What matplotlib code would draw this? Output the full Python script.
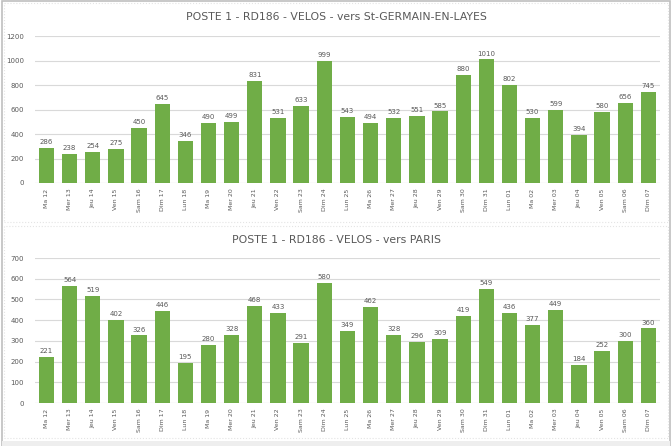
import matplotlib.pyplot as plt
from matplotlib.patches import Rectangle

days = ['Ma 12', 'Mer 13', 'Jeu 14', 'Ven 15', 'Sam 16', 'Dim 17', 'Lun 18',
        'Ma 19', 'Mer 20', 'Jeu 21', 'Ven 22', 'Sam 23', 'Dim 24', 'Lun 25',
        'Ma 26', 'Mer 27', 'Jeu 28', 'Ven 29', 'Sam 30', 'Dim 31', 'Lun 01',
        'Ma 02', 'Mer 03', 'Jeu 04', 'Ven 05', 'Sam 06', 'Dim 07']

vers_stgermain = [286, 238, 254, 275, 450, 645, 346, 490, 499, 831, 531, 633,
                  999, 543, 494, 532, 551, 585, 880, 1010, 802, 530, 599, 394,
                  580, 656, 745]
vers_paris = [221, 564, 519, 402, 326, 446, 195, 280, 328, 468, 433, 291,
              580, 349, 462, 328, 296, 309, 419, 549, 436, 377, 449, 184,
              252, 300, 360]

titles = ['POSTE 1 - RD186 - VELOS - vers St-GERMAIN-EN-LAYES',
          'POSTE 1 - RD186 - VELOS - vers PARIS']

GREEN = '#70AD47'
TXT = '#595959'
GRID = '#D9D9D9'

fig = plt.figure(figsize=(6.72, 4.46), dpi=100)

# chart boxes
fig.patches.append(Rectangle((0.003, 0.0), 0.994, 0.997, transform=fig.transFigure,
                             fill=False, edgecolor='#BFBFBF', linewidth=1.2))
fig.patches.append(Rectangle((0.006, 0.503), 0.988, 0.49, transform=fig.transFigure,
                             fill=False, edgecolor='#E4E4E4', linewidth=0.8, linestyle=':'))
fig.patches.append(Rectangle((0.006, 0.018), 0.988, 0.475, transform=fig.transFigure,
                             fill=False, edgecolor='#E4E4E4', linewidth=0.8, linestyle=':'))
fig.patches.append(Rectangle((0.003, 0.0), 0.994, 0.012, transform=fig.transFigure,
                             color='#EEEEEE', linewidth=0))

def bar_chart(rect, values, title, ymax, step, title_y):
    ax = fig.add_axes(rect)
    x = range(len(days))
    ax.bar(x, values, width=0.66, color=GREEN, zorder=2)
    for i, v in enumerate(values):
        ax.text(i, v + ymax * 0.02, str(v), ha='center', va='bottom',
                fontsize=5, color=TXT)
    ax.set_xlim(-0.5, len(days) - 0.5)
    ax.set_ylim(0, ymax)
    ax.set_yticks(range(0, ymax + 1, step))
    ax.set_xticks(list(x))
    ax.set_xticklabels(days, rotation=90, fontsize=4.5, color=TXT)
    ax.tick_params(axis='y', labelsize=5, colors=TXT, length=0, pad=8)
    ax.tick_params(axis='x', length=0, pad=4)
    ax.grid(axis='y', color=GRID, linewidth=0.8, zorder=0)
    ax.axhline(0, color=GRID, linewidth=0.8, zorder=1)
    for side in ['right', 'left', 'top', 'bottom']:
        ax.spines[side].set_visible(False)
    fig.text(0.5, title_y, title, ha='center', va='center', fontsize=7.8,
             color=TXT)
    return ax

bar_chart([0.052, 0.5897, 0.930, 0.329], vers_stgermain, titles[0], 1200, 200, 0.963)
bar_chart([0.052, 0.0964, 0.930, 0.3251], vers_paris, titles[1], 700, 100, 0.462)

fig.savefig('out.png', dpi=100)
